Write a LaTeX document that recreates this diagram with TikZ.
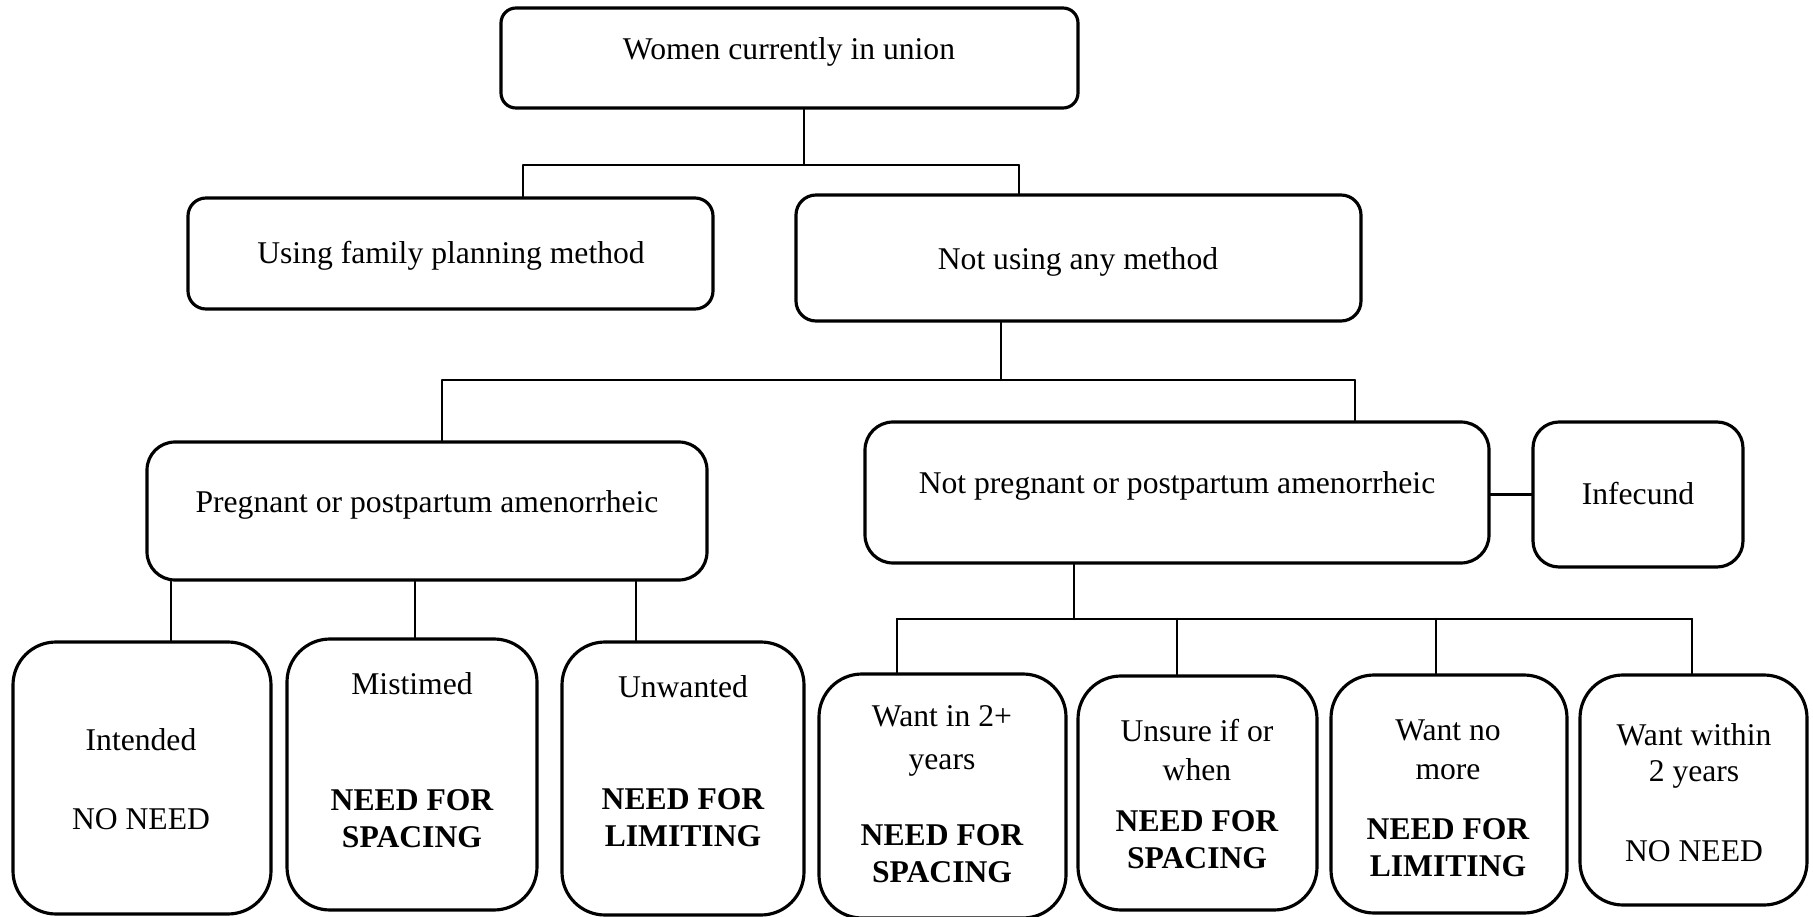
\documentclass[tikz,border=0pt]{standalone}
\usepackage{fontspec}
\setmainfont{Liberation Serif}
\usetikzlibrary{calc}

\tikzset{
  box/.style={draw,line width=0.9pt,rounded corners=#1,inner sep=0pt},
  box/.default=2mm,
  lbl/.style={font=\fontsize{9}{11}\selectfont,align=center,inner sep=0pt},
  need/.style={lbl,font=\fontsize{9}{10.6}\selectfont\bfseries},
  link/.style={line width=0.7pt}
}

\begin{document}
\begin{tikzpicture}[x=0.1mm,y=-0.1mm,line cap=round]
  \useasboundingbox (0,0) rectangle (1813,917);
  % the boxes: name/centre x/centre y/width/height (mm)/corner
  \foreach \n/\cx/\cy/\w/\h/\r in {top/789.5/58/57.7/10/1.5mm,using/450.5/253.5/52.5/11.1/1.8mm,
    notusing/1078.5/258/56.5/12.6/2mm,preg/427/511/56/13.8/2.8mm,notpreg/1177/492.5/62.4/14.1/2.8mm,
    infecund/1638/494.5/21/14.5/2.6mm,intended/142/778/25.8/27.2/4.3mm,mistimed/412/774.5/25/27.1/4.3mm,
    unwanted/683/778.5/24.2/27.3/4.3mm,want2/942.5/796/24.7/24.4/4.3mm,unsure/1197.5/793/23.9/23.4/4.3mm,
    nomore/1449/794/23.6/23.8/4.3mm,within/1693.5/790/22.7/23/4.3mm}{
    \node[box=\r,minimum width=\w mm,minimum height=\h mm] (\n) at (\cx,\cy) {};
  }
  \node[lbl] (top-a) at (789,52) {Women currently in union};
  \node[lbl] (using-a) at (451,256) {Using family planning method};
  \node[lbl] (notusing-a) at (1078,262) {Not using any method};
  \node[lbl] (preg-a) at (427,505) {Pregnant or postpartum amenorrheic};
  \node[lbl] (notpreg-a) at (1177,486) {Not pregnant or postpartum amenorrheic};
  \node[lbl] (infecund-a) at (1638,494) {Infecund};
  % the leaves: upper text, then the need
  \foreach \n/\x/\ya/\ta/\yb/\tb/\s in {intended/141/740/Intended/819/NO NEED/lbl,
    mistimed/412/684/Mistimed/819/NEED FOR\\SPACING/need,unwanted/683/687/Unwanted/818/NEED FOR\\LIMITING/need,
    want2/942/741/Want in 2+\\[1.3pt]years/854/NEED FOR\\SPACING/need,unsure/1197/750/Unsure if or\\when/840/NEED FOR\\SPACING/need,
    nomore/1448/750/Want no\\more/848/NEED FOR\\LIMITING/need,within/1694/756/Want within\\[-0.6pt]2 years/851/NO NEED/lbl}{
    \node[lbl] (\n-a) at (\x,\ya) {\ta};
    \node[\s] (\n-b) at (\x,\yb) {\tb};
  }
  % connectors
  \coordinate (j1) at (804,165); \coordinate (j1l) at (523,165); \coordinate (j1r) at (1019,165);
  \draw[link] (top.south -| j1) -- (j1) (j1l) -- (j1r) (j1l) -- (j1l |- using.north) (j1r) -- (j1r |- notusing.north);
  \coordinate (j2) at (1001,380); \coordinate (j2l) at (442,380); \coordinate (j2r) at (1355,380);
  \draw[link] (notusing.south -| j2) -- (j2) (j2l) -- (j2r) (j2l) -- (j2l |- preg.north) (j2r) -- (j2r |- notpreg.north);
  \foreach \x/\n in {171/intended,415/mistimed,636/unwanted}{
    \coordinate (d\n) at (\x,0);
    \draw[link] (d\n |- preg.south) -- (d\n |- \n.north);
  }
  \coordinate (j3) at (1074,619); \coordinate (j3l) at (897,619); \coordinate (j3r) at (1692,619);
  \draw[link] (notpreg.south -| j3) -- (j3) (j3l) -- (j3r);
  \foreach \x/\n in {897/want2,1177/unsure,1436/nomore,1692/within}{
    \coordinate (d\n) at (\x,619);
    \draw[link] (d\n) -- (d\n |- \n.north);
  }
  \draw[link] (infecund.west -| notpreg.east) -- (infecund.west);
\end{tikzpicture}
\end{document}
